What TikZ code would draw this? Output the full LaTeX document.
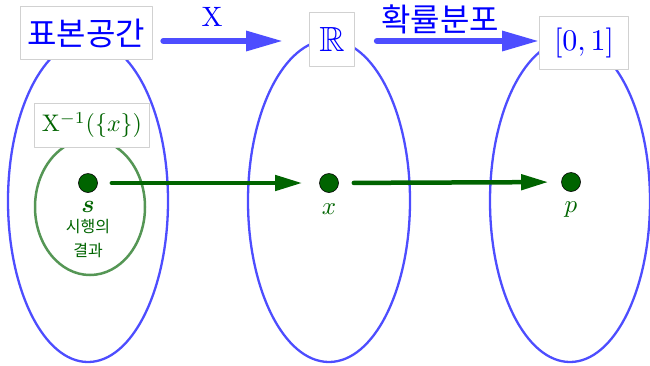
\documentclass[tikz,border=0pt]{standalone}
\usepackage{amssymb,bm}
\usepackage{fontspec}
\newfontfamily\kr{Noto Sans CJK KR}
\usetikzlibrary{arrows.meta}
\definecolor{gblue}{RGB}{77,77,255}
\definecolor{dgreen}{RGB}{0,100,0}
\definecolor{lgreen}{RGB}{85,150,85}
\begin{document}
\begin{tikzpicture}[x=1pt,y=-1pt,line join=round,line cap=round,
	set/.style={draw=gblue,line width=2.3pt},
	tag/.style={draw=black!18,fill=white,line width=.7pt,text=blue,inner sep=0pt},
	pt/.style={circle,draw=black,fill=dgreen,inner sep=0pt,minimum size=19pt,line width=.6pt},
	lab/.style={text=dgreen,scale=2.5},
	big/.style={-{Triangle[length=37pt,width=19pt]},gblue,line width=6pt},
	map/.style={-{Triangle[length=27pt,width=15pt]},dgreen,line width=4.5pt}]
	\useasboundingbox (0,0) rectangle (650,365);
	\draw[set] (88,201) ellipse (80 and 161);
	\draw[set] (329,201) ellipse (81 and 161);
	\draw[set] (570,201) ellipse (80 and 161);
	\draw[lgreen,line width=2.5pt] (90,207) ellipse (55 and 68);
	\node[tag,minimum width=132pt,minimum height=53pt,font=\kr\fontsize{32}{34}\selectfont] (space) at (86,33) {표본공간};
	\node[tag,minimum width=45pt,minimum height=54pt] (real) at (332,39) {\scalebox{3.5}{$\mathbb{R}$}};
	\node[tag,minimum width=89pt,minimum height=53pt] (unit) at (584,43) {\scalebox{3}{$[0,1]$}};
	\node[tag,text=dgreen,minimum width=115pt,minimum height=44pt] (inv) at (92,125) {\scalebox{2.4}{$\mathrm{X}^{-1}(\{x\})$}};
	\node[text=blue] (X) at (212,17) {\scalebox{2.8}{X}};
	\node[text=blue,font=\kr\fontsize{32}{34}\selectfont] (dist) at (440,19) {확률분포};
	\draw[big,shorten <=11pt,shorten >=26pt] ([yshift=-8pt]space.east) -- ([yshift=-2pt]real.west);
	\draw[big,shorten <=22pt,shorten >=0pt] ([yshift=-2pt]real.east) -- ([yshift=2pt]unit.west);
	% points
	\node[pt] (s) at (88,183) {};
	\node[pt] (x) at (329,183) {};
	\node[pt] (p) at (571,182) {};
	\node[lab] at (88,207) {$\bm{s}$};
	\node[lab] at (329,209) {$x$};
	\node[lab] at (571,210) {$p$};
	\node[text=dgreen,font=\kr\fontsize{16}{18}\selectfont] (try) at (88,227) {시행의};
	\node[text=dgreen,font=\kr\fontsize{16}{18}\selectfont] (res) at (88,250) {결과};
	\draw[map,shorten <=14pt,shorten >=17pt] (s) -- (x);
	\draw[map,shorten <=15pt,shorten >=13pt] (x) -- (p);
\end{tikzpicture}
\end{document}
